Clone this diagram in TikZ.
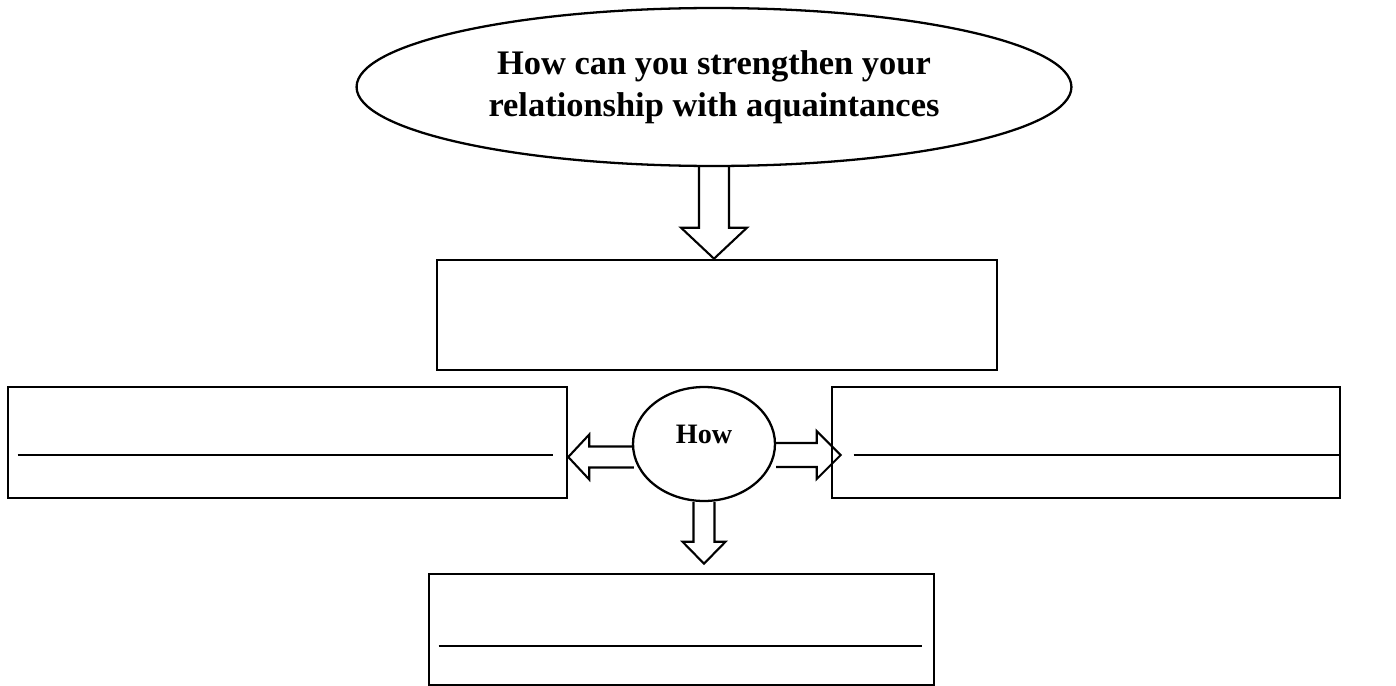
\documentclass[tikz,border=0pt]{standalone}
\usepackage{fontspec}
\setmainfont{Liberation Serif}
\usetikzlibrary{shapes.geometric,calc}

\newcommand{\downblock}[5]{%
  \draw[blockarrow] let \p1=(#1), \p2=(#2) in
    (\x1-#3,\y1) -- (\x1-#3,\y2+#5) -- (\x1-#4,\y2+#5) -- (\x1,\y2)
    -- (\x1+#4,\y2+#5) -- (\x1+#3,\y2+#5) -- (\x1+#3,\y1);}
\newcommand{\sideblock}[5]{%
  \draw[blockarrow] let \p1=(#1), \p2=(#2), \p3=($(\p2)!#5!(\p1)$) in
    (\x1,\y1+#3) -- (\x3,\y1+#3) -- (\x3,\y1+#4) -- (\x2,\y1)
    -- (\x3,\y1-#4) -- (\x3,\y1-#3) -- (\x1,\y1-#3);}

\tikzset{
  bubble/.style={draw, ellipse, line width=1.3pt, inner sep=0pt, align=center},
  answerbox/.style={draw, rectangle, line width=1.5pt, inner sep=0pt},
  blockarrow/.style={line width=1.2pt, line join=miter},
  writeline/.style={line width=0.6pt},
}

\begin{document}
\begin{tikzpicture}[x=0.02cm, y=-0.02cm]
			\useasboundingbox (0,0) rectangle (1396,686);
			\node[bubble, minimum width=14.3cm, minimum height=3.16cm, font=\fontsize{19.6}{23.8}\selectfont\bfseries] (question) at (714,87) {How can you strengthen your\\relationship with aquaintances};
			\node[answerbox, minimum width=11.2cm, minimum height=2.2cm] (first) at (717,315) {};
			\node[answerbox, minimum width=11.18cm, minimum height=2.22cm] (leftbox) at (287.5,442.5) {};
			\node[answerbox, minimum width=10.16cm, minimum height=2.22cm] (rightbox) at (1086,442.5) {};
			\node[answerbox, minimum width=10.1cm, minimum height=2.22cm] (bottombox) at (681.5,629.5) {};
			\node[bubble, minimum width=2.84cm, minimum height=2.28cm, text depth=0.4cm, font=\fontsize{16}{19}\selectfont\bfseries] (how) at (704,444) {How};
			% lines to write on
			\draw[writeline] ($(leftbox.west)+(11,12.5)$) -- ($(leftbox.east)+(-15,12.5)$);
			\draw[writeline] ($(rightbox.west)+(23,12.5)$) -- ($(rightbox.east)+(-2,12.5)$);
			\draw[writeline] ($(bottombox.west)+(11,16.5)$) -- ($(bottombox.east)+(-13,16.5)$);
			% block arrows
			\downblock{question.south}{first.north}{0.3cm}{0.66cm}{0.62cm}
			\downblock{how.south}{$(bottombox.north)+(0,-9)$}{0.21cm}{0.43cm}{0.44cm}
			\coordinate (hl) at ($(how.west)+(2,13)$);
			\coordinate (hr) at ($(how.east)+(0,11)$);
			\sideblock{hl}{leftbox.east |- hl}{0.21cm}{0.45cm}{0.42cm}
			\sideblock{hr}{$(rightbox.west |- hr)+(10,0)$}{0.24cm}{0.48cm}{0.48cm}
		\end{tikzpicture}
\end{document}
